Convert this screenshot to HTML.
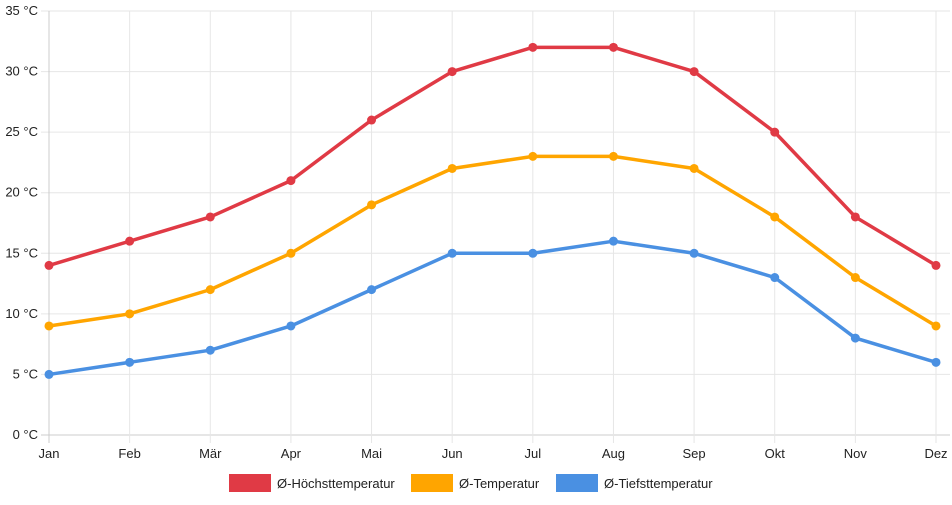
<!DOCTYPE html>
<html><head><meta charset="utf-8"><style>
body{margin:0;background:#fff;font-family:"Liberation Sans",sans-serif}
svg text{font-family:"Liberation Sans",sans-serif;font-size:13px;fill:#222}
</style></head><body>
<svg id="c" width="952" height="500"></svg>
<script>
const months=["Jan","Feb","Mär","Apr","Mai","Jun","Jul","Aug","Sep","Okt","Nov","Dez"];
const highs=[14,16,18,21,26,30,32,32,30,25,18,14];
const avgs=[9,10,12,15,19,22,23,23,22,18,13,9];
const lows=[5,6,7,9,12,15,15,16,15,13,8,6];
const yTicks=[0,5,10,15,20,25,30,35];
const seriesNames=["Ø-Höchsttemperatur","Ø-Temperatur","Ø-Tiefsttemperatur"];
const NS="http://www.w3.org/2000/svg",svg=document.getElementById('c');
const x0=49,x1=936,y0=435,y1=11;
const X=i=>x0+i*(x1-x0)/(months.length-1);
const Y=v=>y0-(v/35)*(y0-y1);
function mk(t,a,p){const e=document.createElementNS(NS,t);for(const k in a)e.setAttribute(k,a[k]);(p||svg).appendChild(e);return e;}
const grid=mk('g',{});


yTicks.forEach(v=>{const y=Y(v);
mk('line',{x1:x0-8,x2:x1+14,y1:y,y2:y,stroke:v===0?'#ccc':'#e6e6e6','stroke-width':1},grid);
const t=mk('text',{x:38,y:y+4,'text-anchor':'end'});t.textContent=v+' °C';

});
months.forEach((m,i)=>{const x=X(i);
mk('line',{x1:x,x2:x,y1:y1,y2:y0+8,stroke:i===0?'#ccc':'#e6e6e6','stroke-width':1},grid);
const t=mk('text',{x:x,y:458,'text-anchor':'middle'});t.textContent=m;

});
const cols=["#e03a45","#ffa500","#4a90e2"];
[highs,avgs,lows].forEach((d,s)=>{const g=mk('g',{});


mk('polyline',{points:d.map((v,i)=>X(i)+','+Y(v)).join(' '),fill:'none',stroke:cols[s],'stroke-width':3.5,'stroke-linejoin':'round'},g);
d.forEach((v,i)=>{const c=mk('circle',{cx:X(i),cy:Y(v),r:4.5,fill:cols[s]},g);

});});
const lx=[229,411,556];
seriesNames.forEach((n,s)=>{const g=mk('g',{});


mk('rect',{x:lx[s],y:474,width:42,height:18,fill:cols[s]},g);
const t=mk('text',{x:lx[s]+48,y:488},g);t.textContent=n;});
</script>
</body></html>
